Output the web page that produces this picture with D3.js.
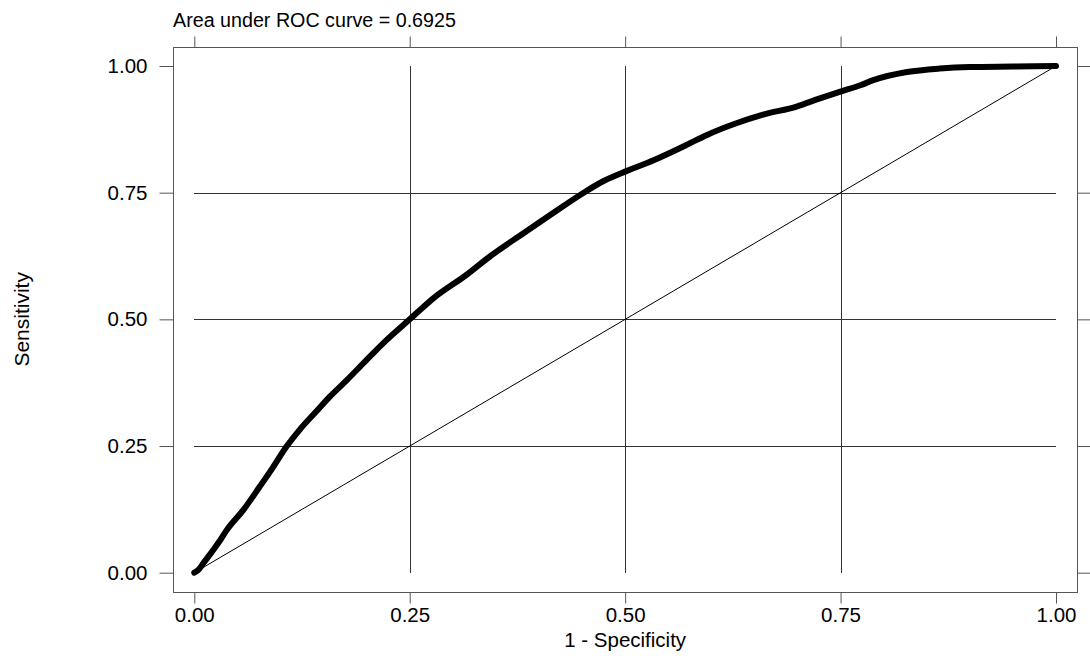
<!DOCTYPE html>
<html>
<head>
<meta charset="utf-8">
<script src="https://cdn.jsdelivr.net/npm/d3@7"></script>
<style>
  html, body { margin: 0; padding: 0; background: #fff; }
  svg { display: block; }
  text { font-family: "Liberation Sans", Arial, sans-serif; fill: #000; }
</style>
</head>
<body>
<script>
// ---- data ----
const fpr = [0, 0.005, 0.0104, 0.022, 0.030, 0.0376, 0.057, 0.076, 0.0917, 0.107, 0.1227, 0.142, 0.157, 0.177, 0.200, 0.223, 0.250, 0.277, 0.316, 0.343, 0.382, 0.413, 0.451, 0.475, 0.502, 0.533, 0.571, 0.595, 0.629, 0.660, 0.699, 0.726, 0.751, 0.773, 0.788, 0.827, 0.865, 0.900, 0.950, 1.0];
const tpr = [0, 0.006, 0.0185, 0.045, 0.064, 0.084, 0.124, 0.170, 0.209, 0.249, 0.283, 0.319, 0.347, 0.380, 0.420, 0.459, 0.500, 0.541, 0.588, 0.624, 0.670, 0.706, 0.749, 0.773, 0.793, 0.814, 0.844, 0.864, 0.887, 0.904, 0.920, 0.936, 0.950, 0.962, 0.972, 0.988, 0.995, 0.998, 0.999, 1.0];
const tickValues = [0, 0.25, 0.5, 0.75, 1];
const tickLabels = ["0.00", "0.25", "0.50", "0.75", "1.00"];
const gridValues = [0.25, 0.5, 0.75];
const titleText = "Area under ROC curve = 0.6925";
const xTitle = "1 - Specificity";
const yTitle = "Sensitivity";

// ---- layout ----
const W = 1090, H = 656;
const frame = {left: 173, top: 47, right: 1077, bottom: 592};
const x = d3.scaleLinear().domain([0, 1]).range([194.3, 1056]);
const y = d3.scaleLinear().domain([0, 1]).range([572.7, 66]);

const svg = d3.select("body").append("svg").attr("width", W).attr("height", H);

// frame
svg.append("rect")
  .attr("x", frame.left + 0.5).attr("y", frame.top + 0.5)
  .attr("width", frame.right - frame.left).attr("height", frame.bottom - frame.top)
  .attr("fill", "none").attr("stroke", "#555").attr("stroke-width", 1);

// grid
const grid = svg.append("g").attr("stroke", "#333").attr("stroke-width", 1).attr("shape-rendering", "crispEdges");
grid.selectAll("line.v").data(gridValues).join("line").attr("class", "v")
  .attr("x1", d => Math.round(x(d)) + 0.5).attr("x2", d => Math.round(x(d)) + 0.5)
  .attr("y1", y(1)).attr("y2", y(0));
grid.selectAll("line.h").data(gridValues).join("line").attr("class", "h")
  .attr("y1", d => Math.round(y(d)) + 0.5).attr("y2", d => Math.round(y(d)) + 0.5)
  .attr("x1", x(0)).attr("x2", x(1));

// axes
function styleAxis(g) {
  g.select(".domain").remove();
  g.selectAll(".tick line").attr("stroke", "#555");
  g.selectAll(".tick text").style("font-size", "20.5px").attr("font-family", "Liberation Sans, Arial, sans-serif");
}
const fmt = (d) => tickLabels[tickValues.indexOf(d)];
svg.append("g").attr("transform", `translate(0,${frame.bottom + 0.5})`)
  .call(d3.axisBottom(x).tickValues(tickValues).tickFormat(fmt).tickSize(11).tickPadding(4))
  .call(styleAxis);
svg.append("g").attr("transform", `translate(0,${frame.top + 0.5})`)
  .call(d3.axisTop(x).tickValues(tickValues).tickFormat("").tickSize(11))
  .call(styleAxis);
svg.append("g").attr("transform", `translate(${frame.left + 0.5},0)`)
  .call(d3.axisLeft(y).tickValues(tickValues).tickFormat(fmt).tickSize(14).tickPadding(12))
  .call(styleAxis);
svg.append("g").attr("transform", `translate(${frame.right + 0.5},0)`)
  .call(d3.axisRight(y).tickValues(tickValues).tickFormat("").tickSize(14))
  .call(styleAxis);

// diagonal
svg.append("line")
  .attr("x1", x(0)).attr("y1", y(0)).attr("x2", x(1)).attr("y2", y(1))
  .attr("stroke", "#000").attr("stroke-width", 1);

// ROC curve
const pts = fpr.map((f, i) => [f, tpr[i]]);
svg.append("path").datum(pts)
  .attr("d", d3.line().x(d => x(d[0])).y(d => y(d[1])).curve(d3.curveMonotoneX))
  .attr("fill", "none").attr("stroke", "#000").attr("stroke-width", 6)
  .attr("stroke-linecap", "round").attr("stroke-linejoin", "round");

// titles
svg.append("text").attr("x", 173).attr("y", 26.5).style("font-size", "19.7px").text(titleText);
svg.append("text").attr("x", (x(0) + x(1)) / 2).attr("y", 647).attr("text-anchor", "middle")
  .style("font-size", "20.5px").text(xTitle);
svg.append("text").attr("transform", `translate(29,${y(0.5)}) rotate(-90)`).attr("text-anchor", "middle")
  .style("font-size", "21px").text(yTitle);
</script>
</body>
</html>
